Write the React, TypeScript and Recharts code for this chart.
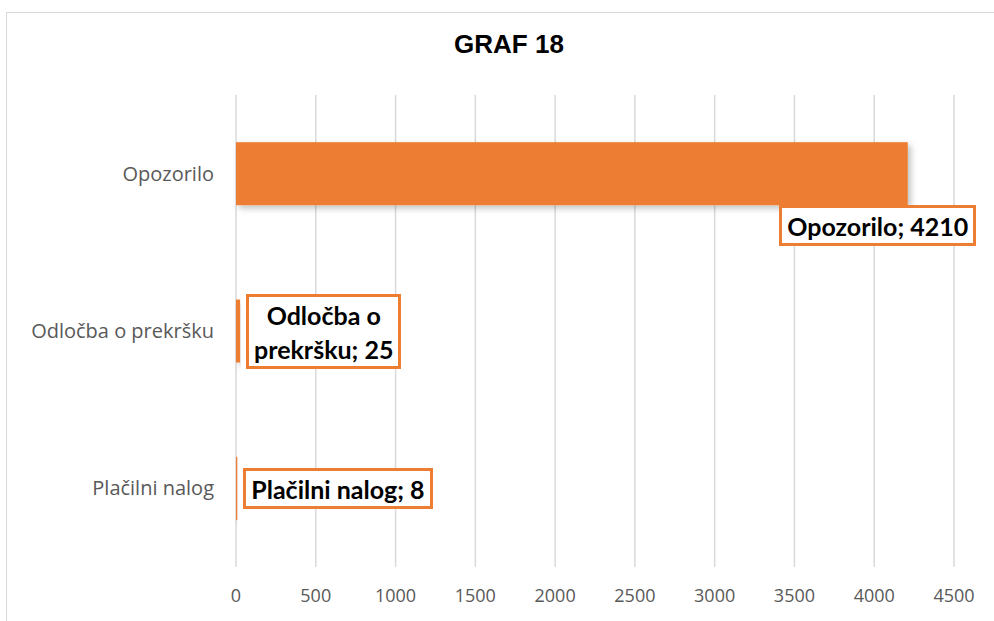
import { Bar, BarChart, CartesianGrid, LabelList, XAxis, YAxis } from "recharts";

const categories = ["Opozorilo", "Odločba o prekršku", "Plačilni nalog"];
const values = [4210, 25, 8];
const xTicks = [0, 500, 1000, 1500, 2000, 2500, 3000, 3500, 4000, 4500];

const data = categories.map((name, i) => ({ name, value: values[i] }));

const ORANGE = "#ED7D31";
const LABEL_FONT = "Lato, 'Noto Sans', sans-serif";
const AXIS_FONT = "'Open Sans', 'Noto Sans', sans-serif";

function BarShape(props: any) {
  const { x, y, width, height, fill } = props;
  return (
    <g>
      <defs>
        <filter id="barShadow" x="-10%" y="-20%" width="130%" height="160%">
          <feDropShadow dx="3" dy="3" stdDeviation="3" floodColor="#000" floodOpacity="0.25" />
        </filter>
      </defs>
      <rect x={x} y={y} width={width} height={height} fill={fill} filter="url(#barShadow)" />
    </g>
  );
}

function DataLabel(props: any) {
  const { x, y, width, height, index } = props;
  const name = categories[index];
  const value = values[index];
  const end = x + width;
  const boxStyle = {
    display: "inline-block",
    background: "#fff",
    border: `3px solid ${ORANGE}`,
    padding: "1px 5px 0",
    fontFamily: LABEL_FONT,
    fontWeight: 700,
    fontSize: 25,
    lineHeight: "34px",
    color: "#000",
    textAlign: "center" as const,
    whiteSpace: "nowrap" as const,
  };

  if (index === 0) {
    // big bar: label sits just below the bar end
    return (
      <foreignObject x={end - 230} y={y + height} width={400} height={60}>
        <div style={{ display: "flex", justifyContent: "center" }}>
          <div style={boxStyle}>
            {name}; {value}
          </div>
        </div>
      </foreignObject>
    );
  }

  const lines = index === 1 ? ["Odločba o", `prekršku; ${value}`] : [`${name}; ${value}`];
  return (
    <foreignObject x={end + 6} y={y + height / 2 - 60} width={300} height={120}>
      <div style={{ display: "flex", alignItems: "center", height: 120 }}>
        <div style={boxStyle}>
          {lines.map((l, k) => (
            <div key={k}>{l}</div>
          ))}
        </div>
      </div>
    </foreignObject>
  );
}

export default function App() {
  return (
    <div style={{ position: "absolute", left: 0, top: 0, width: 994, height: 621, background: "#fff" }}>
      <div
        style={{
          position: "absolute",
          left: 6,
          top: 12,
          width: 1000,
          height: 700,
          border: "1px solid #d9d9d9",
        }}
      />
      <div
        style={{
          position: "absolute",
          left: 0,
          top: 29,
          width: 1018,
          textAlign: "center",
          fontFamily: "'Liberation Sans', Arial, sans-serif",
          fontWeight: 700,
          fontSize: 26,
          color: "#000",
        }}
      >
        GRAF 18
      </div>
      <div style={{ position: "absolute", left: 0, top: 0 }}>
        <BarChart
          width={994}
          height={621}
          data={data}
          layout="vertical"
          margin={{ top: 95, right: 40, bottom: 0, left: 0 }}
          barCategoryGap="30%"
        >
          <CartesianGrid horizontal={false} stroke="#d9d9d9" strokeWidth={1.5} />
          <XAxis
            type="number"
            domain={[0, 4500]}
            ticks={xTicks}
            axisLine={false}
            tickLine={false}
            tickSize={0}
            tickMargin={22}
            height={54}
            interval={0}
            tick={{ fill: "#595959", fontSize: 18, fontFamily: AXIS_FONT }}
          />
          <YAxis
            type="category"
            dataKey="name"
            width={236}
            axisLine={false}
            tickLine={false}
            tickSize={0}
            tickMargin={22}
            tick={{ fill: "#595959", fontSize: 20, fontFamily: AXIS_FONT }}
          />
          <Bar dataKey="value" fill={ORANGE} isAnimationActive={false} shape={<BarShape />}>
            <LabelList dataKey="value" content={<DataLabel />} />
          </Bar>
        </BarChart>
      </div>
    </div>
  );
}
